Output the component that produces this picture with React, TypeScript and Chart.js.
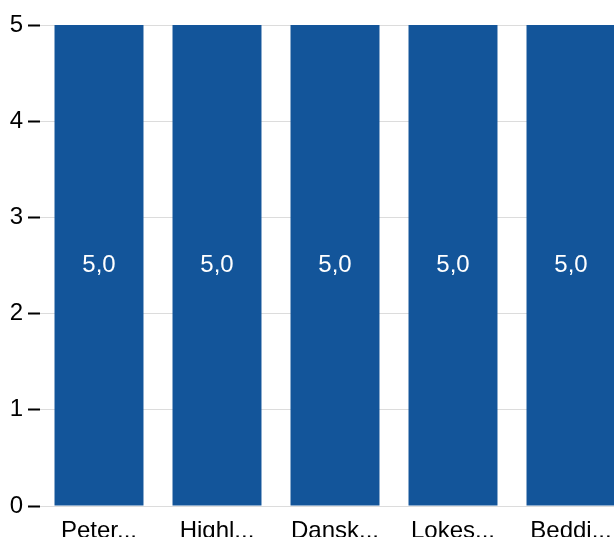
import { useEffect, useRef } from 'react';
import { Chart, registerables } from 'chart.js';
import type { Plugin } from 'chart.js';

Chart.register(...registerables);

const categories = ['Peter...', 'Highl...', 'Dansk...', 'Lokes...', 'Beddi...'];
const values = [5, 5, 5, 5, 5];
const yTicks = [0, 1, 2, 3, 4, 5];

const BAR_COLOR = '#13559a';
const FONT = '"Liberation Sans", Arial, sans-serif';

// white value text in the middle of each bar, with a decimal comma
const valueLabels: Plugin<'bar'> = {
  id: 'valueLabels',
  afterDatasetsDraw(chart) {
    const ctx = chart.ctx;
    const meta = chart.getDatasetMeta(0);
    ctx.save();
    ctx.fillStyle = '#ffffff';
    ctx.font = `24px ${FONT}`;
    ctx.textAlign = 'center';
    ctx.textBaseline = 'middle';
    meta.data.forEach((bar, i) => {
      const { x, y } = bar.getCenterPoint();
      ctx.fillText(values[i].toFixed(1).replace('.', ','), x, y);
    });
    ctx.restore();
  },
};

export default function App() {
  const canvasRef = useRef<HTMLCanvasElement>(null);
  const chartRef = useRef<Chart | null>(null);

  useEffect(() => {
    if (!canvasRef.current) return;
    chartRef.current?.destroy();

    chartRef.current = new Chart(canvasRef.current, {
      type: 'bar',
      data: {
        labels: categories,
        datasets: [
          {
            data: values,
            backgroundColor: BAR_COLOR,
            borderWidth: 0,
            categoryPercentage: 1,
            barPercentage: 0.754,
          },
        ],
      },
      options: {
        animation: false,
        responsive: false,
        maintainAspectRatio: false,
        layout: { padding: { top: 25, right: 0, left: 0, bottom: 0 } },
        plugins: {
          legend: { display: false },
          tooltip: { enabled: false },
        },
        scales: {
          x: {
            grid: { display: false },
            border: { display: false },
            ticks: {
              color: '#000',
              font: { family: FONT, size: 24 },
              padding: 3,
              maxRotation: 0,
              autoSkip: false,
            },
            afterFit: (scale) => {
              scale.height = 31;
            },
          },
          y: {
            min: 0,
            max: 5,
            afterBuildTicks: (scale) => {
              scale.ticks = yTicks.map((v) => ({ value: v }));
            },
            grid: {
              color: '#dcdcdc',
              lineWidth: 1,
              drawTicks: true,
              tickLength: 12,
              tickColor: '#000',
              tickWidth: 2,
            },
            border: { display: false },
            ticks: {
              color: '#000',
              font: { family: FONT, size: 24 },
              padding: 5,
            },
            afterFit: (scale) => {
              scale.width = 40;
            },
          },
        },
      },
      plugins: [valueLabels],
    });

    return () => {
      chartRef.current?.destroy();
      chartRef.current = null;
    };
  }, []);

  return (
    <div
      style={{
        position: 'fixed',
        top: 0,
        left: 0,
        width: 614,
        height: 537,
        overflow: 'hidden',
        background: '#fff',
      }}
    >
      <canvas ref={canvasRef} width={630} height={537} style={{ width: 630, height: 537 }} />
    </div>
  );
}
